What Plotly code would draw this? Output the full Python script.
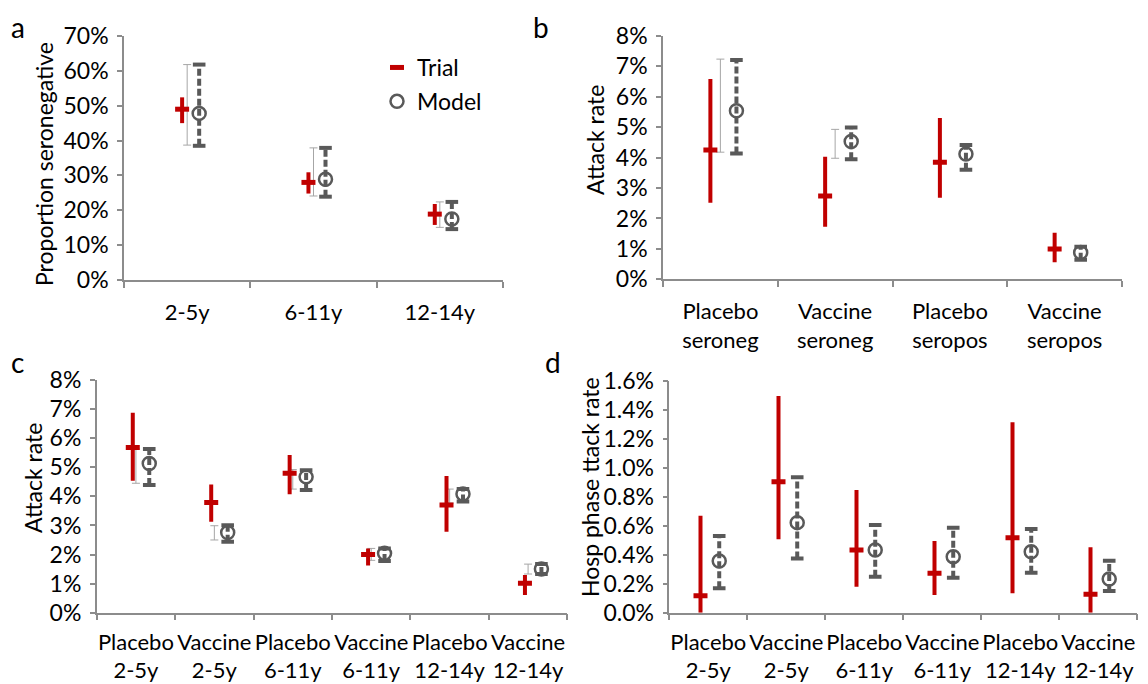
import plotly.graph_objects as go

# ---------------- data ----------------
# Panel a
a_categories = ["2-5y", "6-11y", "12-14y"]
a_trial = [0.490, 0.280, 0.189]
a_trial_lo = [0.450, 0.248, 0.158]
a_trial_hi = [0.524, 0.309, 0.218]
a_model = [0.478, 0.289, 0.175]
a_model_lo = [0.385, 0.239, 0.146]
a_model_hi = [0.618, 0.379, 0.224]
a_ref_lo = [0.387, 0.241, 0.151]
a_ref_hi = [0.618, 0.379, 0.224]

# Panel b
b_categories = ["Placebo<br>seroneg", "Vaccine<br>seroneg", "Placebo<br>seropos", "Vaccine<br>seropos"]
b_trial = [0.0425, 0.0274, 0.0385, 0.0100]
b_trial_lo = [0.0252, 0.0173, 0.0268, 0.0056]
b_trial_hi = [0.0659, 0.0403, 0.0530, 0.0153]
b_model = [0.0554, 0.0453, 0.0412, 0.0088]
b_model_lo = [0.0414, 0.0395, 0.0360, 0.0064]
b_model_hi = [0.0721, 0.0499, 0.0442, 0.0107]
b_ref_lo = [0.0418, 0.0398, None, None]
b_ref_hi = [0.0724, 0.0493, None, None]

# Panel c
c_categories = ["Placebo<br>2-5y", "Vaccine<br>2-5y", "Placebo<br>6-11y",
                "Vaccine<br>6-11y", "Placebo<br>12-14y", "Vaccine<br>12-14y"]
c_trial = [0.0568, 0.0379, 0.0479, 0.0200, 0.0370, 0.0101]
c_trial_lo = [0.0454, 0.0313, 0.0407, 0.0162, 0.0278, 0.0061]
c_trial_hi = [0.0687, 0.0441, 0.0542, 0.0221, 0.0470, 0.0130]
c_model = [0.0513, 0.0276, 0.0467, 0.0204, 0.0408, 0.0150]
c_model_lo = [0.0439, 0.0244, 0.0422, 0.0178, 0.0382, 0.0133]
c_model_hi = [0.0563, 0.0301, 0.0490, 0.0221, 0.0425, 0.0167]
c_ref_lo = [0.0445, 0.0250, 0.0425, 0.0180, 0.0377, 0.0133]
c_ref_hi = [0.0563, 0.0299, 0.0492, 0.0221, 0.0425, 0.0167]

# Panel d
d_categories = ["Placebo<br>2-5y", "Vaccine<br>2-5y", "Placebo<br>6-11y",
                "Vaccine<br>6-11y", "Placebo<br>12-14y", "Vaccine<br>12-14y"]
d_trial = [0.00117, 0.00905, 0.00433, 0.00272, 0.00518, 0.00127]
d_trial_lo = [0.0, 0.00507, 0.00180, 0.00122, 0.00134, 0.0]
d_trial_hi = [0.00670, 0.01497, 0.00847, 0.00495, 0.01315, 0.00452]
d_model = [0.00357, 0.00622, 0.00433, 0.00387, 0.00421, 0.00233]
d_model_lo = [0.00168, 0.00375, 0.00249, 0.00242, 0.00276, 0.00150]
d_model_hi = [0.00530, 0.00935, 0.00606, 0.00587, 0.00578, 0.00359]
d_ref_lo = [None] * 6
d_ref_hi = [None] * 6

# ---------------- styling ----------------
RED = "#C00000"
GRAY = "#595959"
LIGHT = "#A6A6A6"
AXIS = "#8C8C8C"
FONT = "Lato"
YTICK = 23
XTICK = 22
TITLE = 23
OFF = 8            # page body margin
W, H = 1148 - OFF, 684 - OFF


def X(px):
    return (px - OFF) / W


def Y(py):
    return 1 - (py - OFF) / H


panels = [
    dict(key="a", cats=a_categories, trial=a_trial, tlo=a_trial_lo, thi=a_trial_hi,
         model=a_model, mlo=a_model_lo, mhi=a_model_hi, rlo=a_ref_lo, rhi=a_ref_hi,
         toff=-0.04, moff=0.095, yrange=[0, 0.7], dtick=0.1, fmt=".0%",
         px=(124, 503), py=(36, 280), title="Proportion seronegative", tpos=(44, 164),
         letter=(18, 8.5, "top"), standoff=12),
    dict(key="b", cats=b_categories, trial=b_trial, tlo=b_trial_lo, thi=b_trial_hi,
         model=b_model, mlo=b_model_lo, mhi=b_model_hi, rlo=b_ref_lo, rhi=b_ref_hi,
         toff=-0.087, moff=0.14, yrange=[0, 0.08], dtick=0.01, fmt=".0%",
         px=(663, 1122), py=(36, 279.3), title="Attack rate", tpos=(595, 140),
         letter=(541, 8.5, "top"), standoff=12),
    dict(key="c", cats=c_categories, trial=c_trial, tlo=c_trial_lo, thi=c_trial_hi,
         model=c_model, mlo=c_model_lo, mhi=c_model_hi, rlo=c_ref_lo, rhi=c_ref_hi,
         toff=-0.04, moff=0.17, yrange=[0, 0.08], dtick=0.01, fmt=".0%",
         px=(96.7, 567.3), py=(380, 612.7), title="Attack rate", tpos=(33, 478),
         letter=(17, 362, "middle"), standoff=9),
    dict(key="d", cats=d_categories, trial=d_trial, tlo=d_trial_lo, thi=d_trial_hi,
         model=d_model, mlo=d_model_lo, mhi=d_model_hi, rlo=d_ref_lo, rhi=d_ref_hi,
         toff=-0.1, moff=0.14, yrange=[0, 0.016], dtick=0.002, fmt=".1%",
         px=(669.3, 1137.3), py=(381, 612.7), title="Hosp phase ttack rate", tpos=(590, 487),
         letter=(553, 362, "middle"), standoff=9),
]

fig = go.Figure()
annotations = []
layout = {}

for k, p in enumerate(panels):
    n = len(p["cats"])
    idx = list(range(n))
    ax = "" if k == 0 else str(k + 1)
    xref, yref = "x" + ax, "y" + ax
    first = k == 0

    # thin reference bars at category centre
    ref_x, ref_y, ref_plus = [], [], []
    for i in idx:
        if p["rlo"][i] is not None:
            ref_x.append(i)
            ref_y.append(p["rlo"][i])
            ref_plus.append(p["rhi"][i] - p["rlo"][i])
    if ref_x:
        fig.add_trace(go.Scatter(
            x=ref_x, y=ref_y, mode="markers", xaxis=xref, yaxis=yref,
            marker=dict(color="rgba(0,0,0,0)", size=1), showlegend=False, hoverinfo="skip",
            error_y=dict(type="data", symmetric=False, array=ref_plus,
                         arrayminus=[0] * len(ref_x), color=LIGHT, thickness=1, width=4)))

    # trial
    tx = [i + p["toff"] for i in idx]
    fig.add_trace(go.Scatter(
        x=tx, y=p["trial"], mode="markers", xaxis=xref, yaxis=yref, name="Trial",
        legendgroup="trial", showlegend=first,
        marker=dict(symbol="line-ew", size=10, line=dict(color=RED, width=5), color=RED),
        error_y=dict(type="data", symmetric=False,
                     array=[h - v for h, v in zip(p["thi"], p["trial"])],
                     arrayminus=[v - l for v, l in zip(p["trial"], p["tlo"])],
                     color=RED, thickness=4, width=0)))

    # model error bars (dashed)
    mx = [i + p["moff"] for i in idx]
    lx, ly = [], []
    for i in idx:
        lx += [mx[i], mx[i], None]
        ly += [p["mlo"][i], p["mhi"][i], None]
    fig.add_trace(go.Scatter(
        x=lx, y=ly, mode="lines", xaxis=xref, yaxis=yref, showlegend=False, hoverinfo="skip",
        line=dict(color=GRAY, width=4, dash="7px,3px")))
    fig.add_trace(go.Scatter(
        x=mx + mx, y=p["mlo"] + p["mhi"], mode="markers", xaxis=xref, yaxis=yref,
        showlegend=False, hoverinfo="skip",
        marker=dict(symbol="line-ew", size=9, line=dict(color=GRAY, width=4))))
    fig.add_trace(go.Scatter(
        x=mx, y=p["model"], mode="markers", xaxis=xref, yaxis=yref, name="Model",
        legendgroup="model", showlegend=first,
        marker=dict(symbol="circle-open", size=13, line=dict(color=GRAY, width=2.5), color=GRAY)))

    x0, x1 = p["px"]
    ytop, ybot = p["py"]
    layout["xaxis" + ax] = dict(
        domain=[X(x0), X(x1)], anchor=yref, range=[-0.5, n - 0.5], automargin=False,
        tickmode="array", tickvals=idx, ticktext=p["cats"], ticks="", tickangle=0,
        showline=True, linecolor=AXIS, linewidth=1.5, showgrid=False, zeroline=False,
        ticklabelstandoff=p["standoff"],
        tickfont=dict(family=FONT, size=XTICK, color="black"),
        minor=dict(tickmode="array", tickvals=[i - 0.5 for i in range(n + 1)],
                   ticks="outside", ticklen=6, tickcolor=AXIS, tickwidth=1.5, showgrid=False))
    layout["yaxis" + ax] = dict(
        domain=[Y(ybot), Y(ytop)], anchor=xref, range=p["yrange"], automargin=False,
        dtick=p["dtick"], tickformat=p["fmt"], ticks="outside", ticklen=5,
        tickcolor=AXIS, tickwidth=1.5, showline=True, linecolor=AXIS, linewidth=1.5,
        showgrid=False, zeroline=False, ticklabelstandoff=4,
        tickfont=dict(family=FONT, size=YTICK, color="black"))

    annotations.append(dict(
        text=p["title"], x=X(p["tpos"][0]), y=Y(p["tpos"][1]), xref="paper", yref="paper",
        xanchor="center", yanchor="middle", textangle=-90, showarrow=False,
        font=dict(family=FONT, size=TITLE, color="black")))
    lx_, ly_, lanchor = p["letter"]
    annotations.append(dict(
        text=p["key"], x=X(lx_), y=Y(ly_), xref="paper", yref="paper",
        xanchor="center", yanchor=lanchor, showarrow=False, borderpad=0,
        font=dict(family=FONT, size=28, color="black")))

fig.update_layout(
    width=W, height=H, margin=dict(l=0, r=0, t=0, b=0, autoexpand=False),
    paper_bgcolor="white", plot_bgcolor="white",
    font=dict(family=FONT, size=YTICK, color="black"),
    showlegend=True,
    legend=dict(x=X(377), y=Y(46), xanchor="left", yanchor="top",
                bgcolor="rgba(0,0,0,0)", font=dict(family=FONT, size=YTICK, color="black"),
                tracegroupgap=1, itemwidth=30),
    annotations=annotations,
    **layout)

fig.write_html("out.html")
